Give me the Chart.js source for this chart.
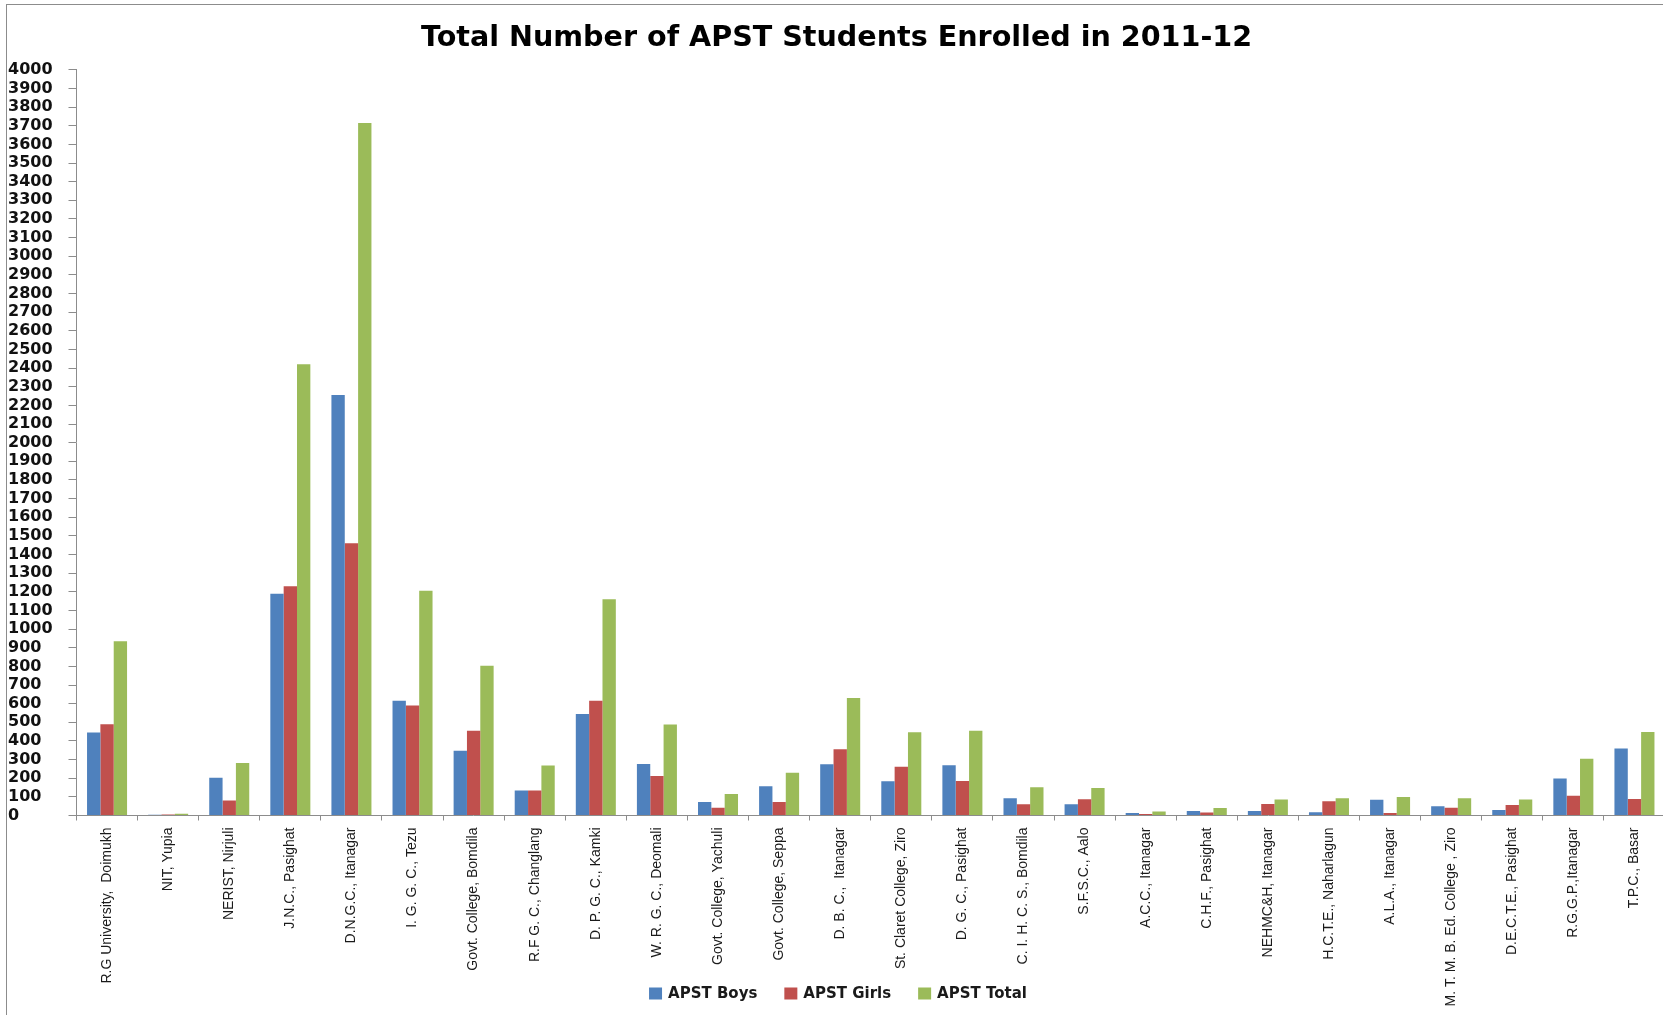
<!DOCTYPE html>
<html>
<head>
<meta charset="utf-8">
<script src="https://cdn.jsdelivr.net/npm/chart.js@4"></script>
<style>
  html, body { margin: 0; padding: 0; background: #fff; overflow: hidden; }
  #frame {
    position: absolute; left: 6px; top: 4px; width: 1662px; height: 1023px;
    border-left: 1px solid #8c8c8c; border-top: 1px solid #8c8c8c;
  }
  #chart { position: absolute; left: 7px; top: 5px; }
</style>
</head>
<body>
<div id="frame"></div>
<canvas id="chart" width="1662" height="1023"></canvas>
<script>
// data
var colleges = [
  "R.G University,  Doimukh", "NIT, Yupia", "NERIST, Nirjuli", "J.N.C., Pasighat",
  "D.N.G.C., Itanagar", "I. G. G. C., Tezu", "Govt. College, Bomdila", "R.F G. C., Changlang",
  "D. P. G. C., Kamki", "W. R. G. C., Deomali", "Govt. College, Yachuli", "Govt. College, Seppa",
  "D. B. C.,  Itanagar", "St. Claret College, Ziro", "D. G. C., Pasighat", "C. I. H. C. S., Bomdila",
  "S.F.S.C., Aalo", "A.C.C., Itanagar", "C.H.F., Pasighat", "NEHMC&H, Itanagar",
  "H.C.T.E., Naharlagun", "A.L.A., Itanagar", "M. T. M. B. Ed. College , Ziro", "D.E.C.T.E., Pasighat",
  "R.G.G.P.,Itanagar", "T.P.C., Basar"
]
var boys  = [445, 4, 202, 1190, 2255, 615, 348, 134, 545, 276, 73, 157, 275, 184, 270, 92, 60, 13, 24, 24, 17, 85, 50, 30, 198, 360]
var girls = [490, 5, 80, 1230, 1460, 590, 455, 134, 615, 212, 42, 72, 355, 262, 185, 60, 87, 8, 16, 62, 76, 14, 42, 56, 106, 88]
var total = [935, 9, 282, 2420, 3715, 1205, 803, 268, 1160, 488, 115, 229, 630, 446, 455, 152, 147, 21, 40, 86, 93, 99, 92, 86, 304, 448]
var seriesNames = ["APST Boys", "APST Girls", "APST Total"]
var seriesColors = ["#4F81BD", "#C0504D", "#9BBB59"]

// legend drawn over the bottom of the label band, like the Excel original
var bottomLegend = {
  id: 'bottomLegend',
  afterDraw: function(chart) {
    var c = chart.ctx
    var sets = chart.data.datasets
    var boxW = 13, boxH = 12, textGap = 6, itemGap = 27
    c.save()
    c.font = 'bold 15px "DejaVu Sans"'
    c.textBaseline = 'middle'
    c.textAlign = 'left'
    var widths = sets.map(function(d) { return boxW + textGap + c.measureText(d.label).width })
    var totalW = widths.reduce(function(a, b) { return a + b }, 0) + itemGap * (sets.length - 1)
    var x = chart.width / 2 - totalW / 2
    var y = chart.height - 34.5
    for (var i = 0; i < sets.length; i++) {
      c.fillStyle = sets[i].backgroundColor
      c.fillRect(x, y - boxH / 2, boxW, boxH)
      c.fillStyle = '#1a1a1a'
      c.fillText(sets[i].label, x + boxW + textGap, y + 1)
      x += widths[i] + itemGap
    }
    c.restore()
  }
}

var ctx = document.getElementById("chart")
var chart = new Chart(ctx, {
  type: 'bar',
  data: {
    labels: colleges,
    datasets: [
      { label: seriesNames[0], data: boys,  backgroundColor: seriesColors[0] },
      { label: seriesNames[1], data: girls, backgroundColor: seriesColors[1] },
      { label: seriesNames[2], data: total, backgroundColor: seriesColors[2] }
    ]
  },
  options: {
    responsive: false,
    animation: false,
    categoryPercentage: 0.655,
    barPercentage: 1.0,
    layout: { padding: { left: 1, right: 4, top: 0, bottom: 0 } },
    plugins: {
      title: {
        display: true,
        text: 'Total Number of APST Students Enrolled in 2011-12',
        color: '#000',
        font: { family: 'DejaVu Sans', size: 28.6, weight: 'bold' },
        padding: { top: 16, bottom: 14.5 }
      },
      legend: { display: false },
      tooltip: { enabled: false }
    },
    scales: {
      x: {
        grid: { drawOnChartArea: false, drawTicks: true, tickLength: 5, color: '#8c8c8c' },
        border: { color: '#8c8c8c' },
        ticks: {
          autoSkip: false, minRotation: 90, maxRotation: 90, padding: 7,
          color: '#1a1a1a',
          font: { family: 'Liberation Sans', size: 14 }
        },
        afterFit: function(scale) { scale.height = 212.5 }
      },
      y: {
        min: 0, max: 4000,
        grid: { drawOnChartArea: false, drawTicks: true, tickLength: 8, color: '#8c8c8c' },
        border: { color: '#8c8c8c' },
        ticks: {
          stepSize: 100, maxTicksLimit: 41, autoSkip: false, crossAlign: 'far',
          color: '#111',
          font: { family: 'DejaVu Sans', size: 16, weight: 'bold' },
          callback: function(v) { return String(v) }
        },
        afterFit: function(scale) { scale.width = 68.5 }
      }
    }
  },
  plugins: [bottomLegend]
})
</script>
</body>
</html>
